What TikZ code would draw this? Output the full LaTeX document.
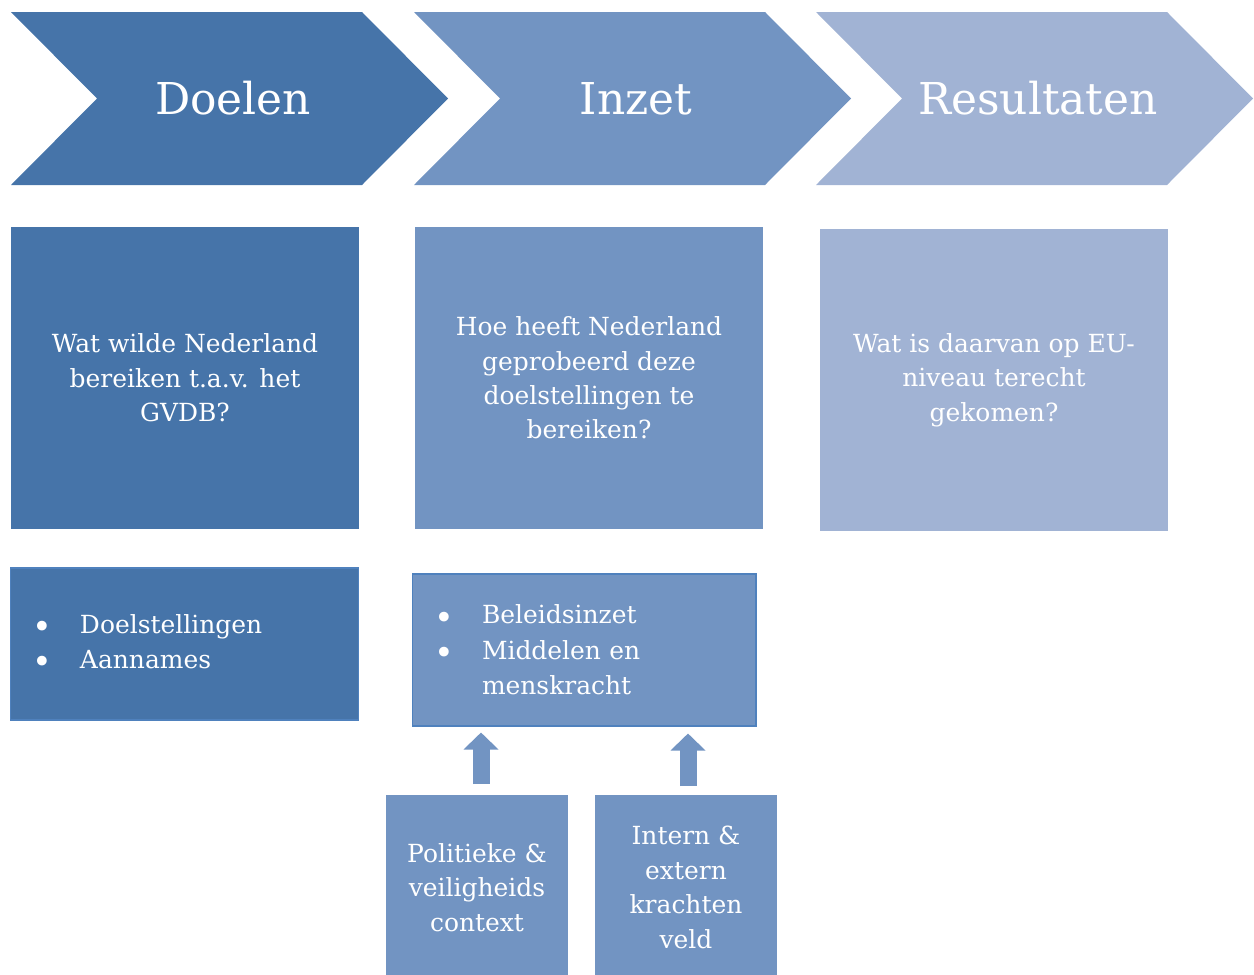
\documentclass[tikz,border=0pt]{standalone}
\usepackage{fontspec}
\setmainfont{DejaVu Serif}
\usetikzlibrary{arrows.meta,calc}

\definecolor{doelblauw}{RGB}{70,116,169}
\definecolor{inzetblauw}{RGB}{114,148,194}
\definecolor{resblauw}{RGB}{161,179,212}
\definecolor{randblauw}{RGB}{79,129,189}

\newcommand{\bul}{\makebox[27.3pt][l]{\raisebox{-3pt}{\fontsize{19}{19}\selectfont\textbullet}}}

\tikzset{
	kop/.style={text=white,font=\fontsize{25}{30}\selectfont},
	vak/.style={fill=#1,text=white,inner sep=0pt,align=center,
		minimum width=6.96cm,minimum height=6.04cm,font=\fontsize{14.2}{19.6}\selectfont},
	lijst/.style={fill=#1,draw=randblauw,line width=0.6pt,text=white,inner sep=0pt,
		align=left,minimum height=3.04cm,font=\fontsize{14.2}{20.2}\selectfont},
	kracht/.style={fill=inzetblauw,text=white,inner sep=0pt,align=center,
		minimum width=3.64cm,minimum height=3.68cm,font=\fontsize{14.2}{19.6}\selectfont},
	blokpijl/.style={inzetblauw,line width=0.34cm,-{Triangle[width=0.68cm,length=0.34cm]}}
}

\begin{document}
\begin{tikzpicture}[x=0.02cm,y=-0.02cm]
	\useasboundingbox (0,0) rectangle (1254,974);
	% fasen
	\foreach \x/\k/\t in {11/doel/Doelen,414/inzet/Inzet,816/res/Resultaten}{
		\fill[\k blauw] (\x,12) -- ({\x+351},12) -- ({\x+437},98.5) -- ({\x+351},185)
			-- (\x,185) -- ({\x+86},98.5) -- cycle;
		\node[kop] (kop\k) at ({\x+222},98.5) {\t};
	}
	% vragen
	\node[vak=doelblauw] (vraagdoel) at (185,378) {Wat wilde Nederland\\bereiken t.a.v. het\\GVDB?};
	\node[vak=inzetblauw] (vraaginzet) at (589,378) {Hoe heeft Nederland\\geprobeerd deze\\doelstellingen te\\bereiken?};
	\node[vak=resblauw] (vraagres) at (994,380) {Wat is daarvan op EU-\\niveau terecht\\gekomen?};
	% lijsten
	\node[lijst=doelblauw,minimum width=6.98cm,text width=6.10cm] (lijstdoel) at (184.5,644)
		{\bul Doelstellingen\\\bul Aannames};
	\node[lijst=inzetblauw,minimum width=6.88cm,text width=6.00cm] (lijstinzet) at (584,650)
		{\bul Beleidsinzet\\\bul Middelen en\\\hspace*{27.3pt}menskracht};
	% krachten
	\node[kracht,anchor=north] (context) at (477,795) {Politieke \&\\veiligheids\\context};
	\node[kracht,anchor=north] (veld) at (686,795) {Intern \&\\extern\\krachten\\veld};
	\draw[blokpijl] ($(context.north)+(4,-11)$) -- ($(lijstinzet.south)+(-103,6)$);
	\draw[blokpijl] ($(veld.north)+(2,-9)$) -- ($(lijstinzet.south)+(104,7)$);
\end{tikzpicture}
\end{document}
